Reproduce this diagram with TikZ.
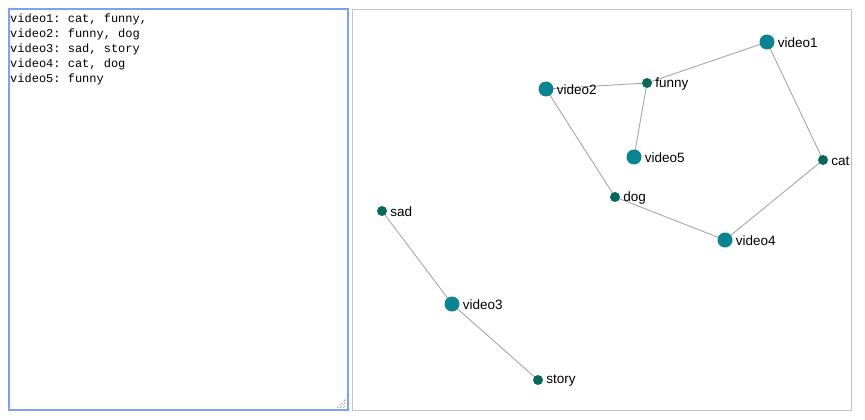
\documentclass[tikz,border=0pt]{standalone}
\usepackage{fontspec}
\setmainfont{Liberation Sans}
\setmonofont{Liberation Mono}
\usepackage{tikz}
\usetikzlibrary{backgrounds}
\definecolor{teal}{HTML}{0A8490}
\definecolor{pine}{HTML}{08695B}
\definecolor{edge}{HTML}{A6A6A6}
\definecolor{frame}{HTML}{C3C3C3}
\definecolor{focus}{HTML}{7DA2EE}

\begin{document}
\begin{tikzpicture}[x=1pt,y=-1pt,
  video/.style={circle,fill=teal,inner sep=0pt,minimum size=15pt,
    label={[tag]right:#1}},
  word/.style={circle,fill=pine,inner sep=0pt,minimum size=10pt,
    label={[tag]right:#1}},
  tag/.style={font=\fontsize{13.5}{16}\selectfont,inner sep=1pt,label distance=2pt,yshift=-1pt},
  link/.style={draw=edge,line width=0.9pt}]
\useasboundingbox (0,0) rectangle (865,420);
% text area
\draw[focus,line width=1.1pt] (9,9) rectangle (348,410);
\node[anchor=north west,inner sep=0pt,align=left,
  font=\ttfamily\fontsize{12}{15}\selectfont] (list) at (10,14)
  {video1: cat, funny,\\video2: funny, dog\\video3: sad, story\\video4: cat, dog\\video5: funny};
\foreach \d in {3,6,9}
  \draw[gray,line width=0.6pt,dash pattern=on 1pt off 1pt] (346-\d,408) -- (346,408-\d);
% graph panel
\draw[frame,line width=0.9pt] (352,9) rectangle (851,410);
\node[video=video1] (v1) at (767,42) {};
\node[word=funny] (funny) at (647,83) {};
\node[video=video2] (v2) at (546,89) {};
\node[video=video5] (v5) at (634,157) {};
\node[word=cat] (cat) at (823,160) {};
\node[word=dog] (dog) at (615,197) {};
\node[video=video4] (v4) at (725,240) {};
\node[word=sad] (sad) at (382,211) {};
\node[video=video3] (v3) at (452,304) {};
\node[word=story] (story) at (538,380) {};
\begin{scope}[on background layer]
\draw[link] (v1.center) -- (funny.center);
\draw[link] (v1.center) -- (cat.center);
\draw[link] (v2.center) -- (funny.center);
\draw[link] (v2.center) -- (dog.center);
\draw[link] (v5.center) -- (funny.center);
\draw[link] (v4.center) -- (cat.center);
\draw[link] (v4.center) -- (dog.center);
\draw[link] (v3.center) -- (sad.center);
\draw[link] (v3.center) -- (story.center);
\end{scope}
\end{tikzpicture}
\end{document}
